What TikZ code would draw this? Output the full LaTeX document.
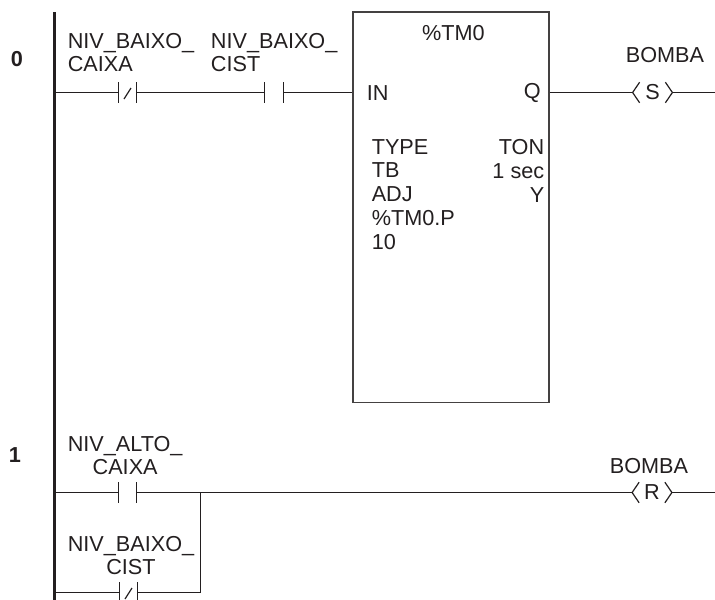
\documentclass[tikz,border=0pt]{standalone}
\usepackage{fontspec}
\setmainfont{Liberation Sans}
\usetikzlibrary{positioning}

\definecolor{ink}{RGB}{35,31,32}

\begin{document}
\begin{tikzpicture}[x=0.025cm, y=-0.025cm,
    every node/.style={inner sep=0pt, text=ink, font=\fontsize{15.4}{16.4}\selectfont},
    wire/.style={draw=ink, line width=0.85pt},
    rail/.style={draw=ink, line width=1.9pt},
    contact/.style={minimum width=0.45cm, minimum height=0.5cm},
    coil/.style={minimum width=0.98cm, minimum height=0.5cm},
    timerbox/.style={draw=ink!85, line width=1.1pt, minimum width=4.9cm, minimum height=9.76cm},
    params/.style={font=\fontsize{15.4}{16.93}\selectfont},
    rungno/.style={font=\fontsize{15.4}{16.4}\selectfont\bfseries}]
    \useasboundingbox (0,0) rectangle (715,599);

    % left power rail
    \coordinate (railtop) at (54.5,12);
    \coordinate (railbot) at (54.5,602);
    \draw [rail] (railtop) -- (railbot);

    % rung 0
    \node at (17,59) [rungno] (rung0) {0};
    \node at (127.5,92.5) [contact] (lowcx) {};
    \node at (274,92.5) [contact] (lowcist) {};
    \node at (451,207.25) [timerbox] (tm0) {};
    \node at (652.5,92.5) [coil] (setpump) {S};
    \coordinate (end0) at (716,92.5);

    \node at (67.5,53) [anchor=west, align=left] (lowcxlbl) {NIV\_BAIXO\_\\CAIXA};
    \node at (210.7,53) [anchor=west, align=left] (lowcistlbl) {NIV\_BAIXO\_\\CIST};
    \node at (453.5,33) (tmname) {\%TM0};
    \node at (366.5,93.5) [anchor=west] (tmin) {IN};
    \node at (541,93) [anchor=east] (tmq) {Q};
    \node at (371.5,194.4) [anchor=west, align=left, params] (tmkeys) {TYPE\\TB\\ADJ\\\%TM0.P\\10};
    \node at (544.5,170.8) [anchor=east, align=right, params] (tmvals) {TON\\1 sec\\Y};
    \node at (665,55.5) (pump0) {BOMBA};

    \draw [wire] (lowcx.west -| railtop) -- (lowcx.west);
    \draw [wire] (lowcx.east) -- (lowcist.west);
    \draw [wire] (lowcist.east) -- (lowcist.east -| tm0.west);
    \draw [wire] (setpump.west -| tm0.east) -- (setpump.west);
    \draw [wire] (setpump.east) -- (end0);

    % rung 1
    \node at (15,455) [rungno] (rung1) {1};
    \node at (127.5,492.5) [contact] (highcx) {};
    \node at (128.5,592.5) [contact] (lowcist1) {};
    \node at (652,492.5) [coil] (resetpump) {R};
    \coordinate (branch) at (200.5,492.5);
    \coordinate (end1) at (716,492.5);

    \node at (67.5,456) [anchor=west, align=center] (highcxlbl) {NIV\_ALTO\_\\CAIXA};
    \node at (67.5,556) [anchor=west, align=center] (lowcist1lbl) {NIV\_BAIXO\_\\CIST};
    \node at (649,466) (pump1) {BOMBA};

    \draw [wire] (highcx.west -| railtop) -- (highcx.west);
    \draw [wire] (highcx.east) -- (resetpump.west);
    \draw [wire] (lowcist1.west -| railtop) -- (lowcist1.west);
    \draw [wire] (lowcist1.east) -| (branch);
    \draw [wire] (resetpump.east) -- (end1);

    % contact bars, slashes for the closed ones
    \foreach \c in {lowcx,lowcist,highcx,lowcist1}
        \draw [wire] (\c.north west) -- (\c.south west) (\c.north east) -- (\c.south east);
    \foreach \c in {lowcx,lowcist1}
        \draw [wire] ([shift={(-3.5,6.5)}]\c.center) -- ([shift={(3.5,-4.5)}]\c.center);

    % coil brackets
    \foreach \c in {setpump,resetpump}
        \draw [wire] ([shift={(7,0)}]\c.north west) -- (\c.west) -- ([shift={(7,0)}]\c.south west)
                     ([shift={(-7,0)}]\c.north east) -- (\c.east) -- ([shift={(-7,0)}]\c.south east);
\end{tikzpicture}
\end{document}
